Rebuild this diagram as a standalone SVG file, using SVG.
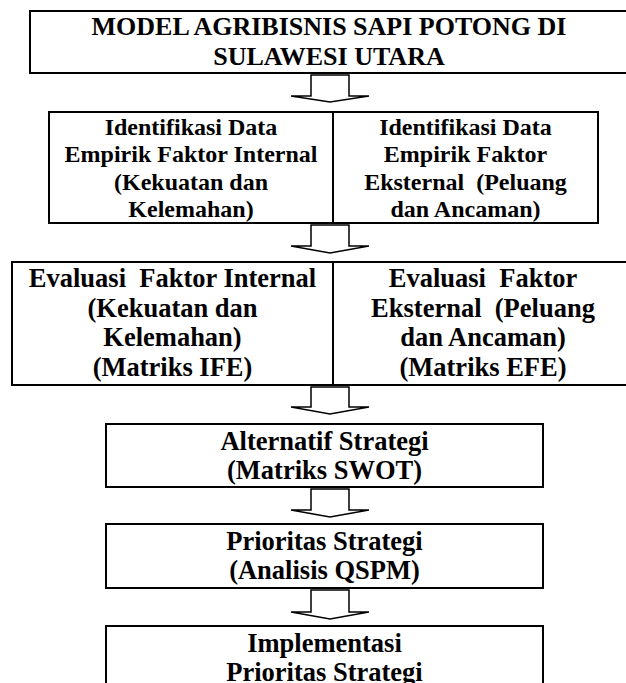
<svg xmlns="http://www.w3.org/2000/svg" width="626" height="683" viewBox="0 0 626 683">
<style>
.box{fill:#fff;stroke:#000;stroke-width:2}
.div{stroke:#000;stroke-width:2}
.arr{fill:#fff;stroke:#000;stroke-width:1.5;stroke-linejoin:miter}
text{font-family:"Liberation Serif","Times New Roman",serif;font-weight:bold;fill:#000;text-anchor:middle;white-space:pre}
.t26{font-size:26px}
.t24{font-size:24px}
.t265{font-size:26.5px}
</style>
<rect width="626" height="683" fill="#fff"/>
<g id="connectors">
<path class="arr" d="M311,75 H349 V96 H369 L330,102 L291,96 H311 Z"/>
<path class="arr" d="M311,225 H349 V246 H369 L330,253 L291,246 H311 Z"/>
<path class="arr" d="M311,387 H349 V407 H369 L330,414 L291,407 H311 Z"/>
<path class="arr" d="M311,489 H349 V510 H369 L330,517 L291,510 H311 Z"/>
<path class="arr" d="M311,590 H349 V612 H369 L330,619 L291,612 H311 Z"/>
</g>
<g id="title">
<rect class="box" x="30" y="11" width="598" height="62"/>
<text class="t26" x="329" y="35">MODEL AGRIBISNIS SAPI POTONG DI</text>
<text class="t26" x="329" y="65">SULAWESI UTARA</text>
</g>
<g id="identifikasi">
<rect class="box" x="49" y="112" width="549" height="111"/>
<line class="div" x1="333" y1="112" x2="333" y2="223"/>
<g id="identifikasi-internal">
<text class="t24" x="191" y="135">Identifikasi Data</text>
<text class="t24" x="191" y="162">Empirik Faktor Internal</text>
<text class="t24" x="191" y="189.5">(Kekuatan dan</text>
<text class="t24" x="191" y="217">Kelemahan)</text>
</g>
<g id="identifikasi-eksternal">
<text class="t24" x="465.5" y="135">Identifikasi Data</text>
<text class="t24" x="465.5" y="162">Empirik Faktor</text>
<text class="t24" x="465.5" y="189.5">Eksternal  (Peluang</text>
<text class="t24" x="465.5" y="217">dan Ancaman)</text>
</g>
</g>
<g id="evaluasi">
<rect class="box" x="12" y="262" width="630" height="123"/>
<line class="div" x1="333" y1="262" x2="333" y2="385"/>
<g id="evaluasi-internal">
<text class="t265" x="172.5" y="287">Evaluasi  Faktor Internal</text>
<text class="t265" x="172.5" y="316.5">(Kekuatan dan</text>
<text class="t265" x="172.5" y="346">Kelemahan)</text>
<text class="t265" x="172.5" y="375.5">(Matriks IFE)</text>
</g>
<g id="evaluasi-eksternal">
<text class="t265" x="483" y="287">Evaluasi  Faktor</text>
<text class="t265" x="483" y="316.5">Eksternal  (Peluang</text>
<text class="t265" x="483" y="346">dan Ancaman)</text>
<text class="t265" x="483" y="375.5">(Matriks EFE)</text>
</g>
</g>
<g id="alternatif">
<rect class="box" x="106" y="424" width="437" height="63"/>
<text class="t265" x="324.5" y="450">Alternatif Strategi</text>
<text class="t265" x="324.5" y="479">(Matriks SWOT)</text>
</g>
<g id="prioritas">
<rect class="box" x="106" y="524" width="437" height="64"/>
<text class="t265" x="324.5" y="549.5">Prioritas Strategi</text>
<text class="t265" x="324.5" y="578.5">(Analisis QSPM)</text>
</g>
<g id="implementasi">
<rect class="box" x="106" y="626" width="437" height="80"/>
<text class="t265" x="324.5" y="652">Implementasi</text>
<text class="t265" x="324.5" y="681">Prioritas Strategi</text>
</g>
</svg>
